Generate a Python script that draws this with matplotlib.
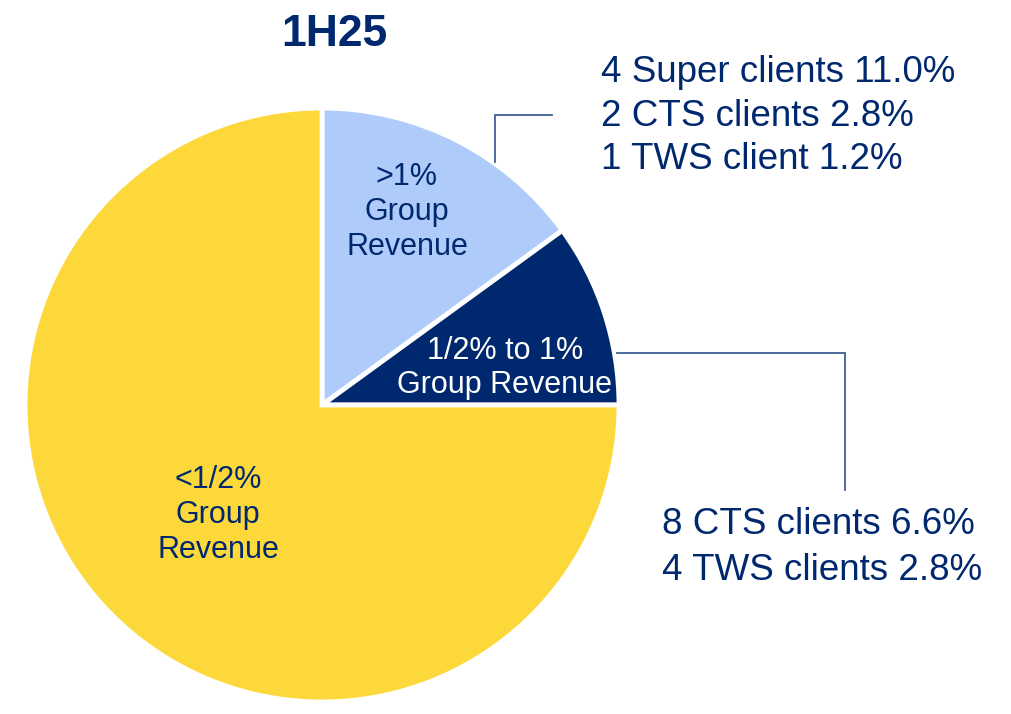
import matplotlib
matplotlib.use("Agg")
import matplotlib.pyplot as plt

plt.rcParams['font.family'] = ['Liberation Sans', 'DejaVu Sans']

# Data
title = "1H25"
categories = [">1%\nGroup\nRevenue", "1/2% to 1%\nGroup Revenue", "<1/2%\nGroup\nRevenue"]
shares = [15.0, 10.0, 75.0]
colors = ["#AFCBFA", "#00286E", "#FDD83B"]
label_colors = ["#00286E", "#FFFFFF", "#00286E"]
top_notes = ["4 Super clients 11.0%", "2 CTS clients 2.8%", "1 TWS client 1.2%"]
mid_notes = ["8 CTS clients 6.6%", "4 TWS clients 2.8%"]

W, H = 1012, 714
fig = plt.figure(figsize=(W / 100, H / 100), dpi=100)
ax = fig.add_axes([0, 0, 1, 1])
ax.set_xlim(0, W)
ax.set_ylim(0, H)
ax.set_aspect('equal')
ax.axis('off')

def Y(y):
    return H - y

navy = "#00286E"
line_c = "#3F5F96"

cx, cy, r = 322, 405, 297
ax.pie(shares, colors=colors, startangle=90, counterclock=False,
       center=(cx, Y(cy)), radius=r, frame=True,
       wedgeprops=dict(edgecolor='white', linewidth=3.5))
ax.set_xlim(0, W)
ax.set_ylim(0, H)
ax.axis('off')

# inner labels
label_pos = [(407, 212), (505, 368), (218, 515)]
for (x, y), txt, c in zip(label_pos, categories, label_colors):
    ax.text(x, Y(y), txt, ha='center', va='center', fontsize=22, color=c,
            linespacing=1.2)

# title
ax.text(334, Y(46), title, ha='center', va='baseline', fontsize=32,
        fontweight='bold', color=navy)

# notes
for txt, yb in zip(top_notes, [82, 126, 169]):
    ax.text(601, Y(yb), txt, ha='left', va='baseline', fontsize=26.5, color=navy)
for txt, yb in zip(mid_notes, [534, 580]):
    ax.text(662, Y(yb), txt, ha='left', va='baseline', fontsize=26.5, color=navy)

# leader lines
ax.plot([552, 495, 495], [Y(115), Y(115), Y(162)], color=line_c, lw=1.3,
        solid_joinstyle='miter')
ax.plot([617, 845, 845], [Y(353), Y(353), Y(490)], color=line_c, lw=1.3,
        solid_joinstyle='miter')

fig.savefig("out.png", dpi=100, facecolor='white')
